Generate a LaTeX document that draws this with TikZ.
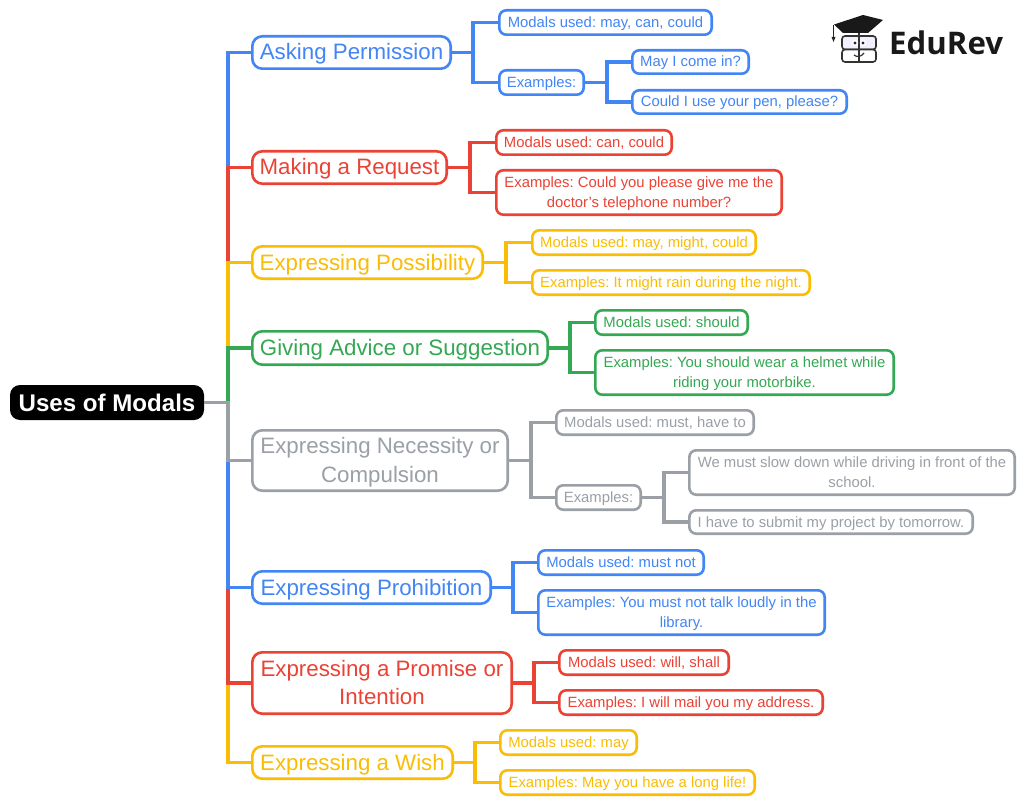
\documentclass[tikz,border=0pt]{standalone}
\usepackage{fontspec}
\setmainfont{Liberation Sans}
\newfontfamily\logofont{Open Sans}
\frenchspacing
\definecolor{cblue}{HTML}{4285F4}
\definecolor{cred}{HTML}{EA4335}
\definecolor{cyel}{HTML}{FBBC04}
\definecolor{cgrn}{HTML}{34A853}
\definecolor{cgry}{HTML}{9AA0A6}
\tikzset{
  mbase/.style={draw,line width=2.6pt,inner sep=0pt,outer sep=0pt,align=center,fill=white,text=#1,draw=#1},
  bigf/.style={font=\fontsize{22.3}{28.5}\selectfont,rounded corners=10pt,
    execute at begin node={\rule{0pt}{20pt}},execute at end node={\rule[-5pt]{0pt}{0pt}}},
  smallf/.style={font=\fontsize{14.85}{20}\selectfont,rounded corners=7pt,
    execute at begin node={\rule{0pt}{14pt}},execute at end node={\rule[-4pt]{0pt}{0pt}}},
  link/.style={line width=3.6pt,#1},
}
\newcommand{\lowr}[1]{\raisebox{-2pt}[\height][\depth]{#1}}
\newcommand{\bx}[8]{\node[mbase=#6,#7,minimum width={(#4-#2-2.6)*1pt},minimum height={(#5-#3-2.6)*1pt}] (#1) at ({(#2+#4)/2},{(#3+#5)/2}) {#8};}
\begin{document}
\begin{tikzpicture}[x=1pt,y=-1pt]
\useasboundingbox (0,0) rectangle (1024,805);
% root
\node[fill=black,rounded corners=10pt,inner sep=0pt,outer sep=0pt,minimum width=194pt,minimum height=35pt,text=white,font=\bfseries\fontsize{24.1}{28}\selectfont] (root) at (107,402.5) {Uses of Modals};
\coordinate (sp) at (228,402.5);
% branches
\bx{A}{251}{35}{452}{70}{cblue}{bigf}{Asking Permission}
\bx{A1}{498}{9}{713}{36}{cblue}{smallf}{Modals used: may, can, could}
\bx{A2}{498}{69}{585}{96}{cblue}{smallf}{Examples:}
\bx{A21}{631}{49}{750}{75}{cblue}{smallf}{May I come in?}
\bx{A22}{631}{89}{848}{115}{cblue}{smallf}{Could I use your pen, please?}
\bx{B}{251}{150}{448}{185}{cred}{bigf}{Making a Request}
\bx{B1}{495}{129}{673}{156}{cred}{smallf}{Modals used: can, could}
\bx{B2}{495}{169}{783}{216}{cred}{smallf}{\lowr{Examples: Could you please give me the}\\\lowr{doctor’s telephone number?}}
\bx{C}{251}{245}{484}{280}{cyel}{bigf}{Expressing Possibility}
\bx{C1}{531}{229}{757}{256}{cyel}{smallf}{Modals used: may, might, could}
\bx{C2}{531}{269}{811}{296}{cyel}{smallf}{Examples: It might rain during the night.}
\bx{D}{251}{330}{549}{366}{cgrn}{bigf}{Giving Advice or Suggestion}
\bx{D1}{594}{309}{749}{336}{cgrn}{smallf}{Modals used: should}
\bx{D2}{594}{349}{895}{396}{cgrn}{smallf}{\lowr{Examples: You should wear a helmet while}\\\lowr{riding your motorbike.}}
\bx{E}{251}{429}{509}{492}{cgry}{bigf}{\lowr{Expressing Necessity or}\\\lowr{Compulsion}}
\bx{E1}{555}{409}{755}{436}{cgry}{smallf}{Modals used: must, have to}
\bx{E2}{555}{484}{642}{511}{cgry}{smallf}{Examples:}
\bx{E21}{688}{449}{1016}{496}{cgry}{smallf}{\lowr{We must slow down while driving in front of the}\\\lowr{school.}}
\bx{E22}{688}{509}{974}{535}{cgry}{smallf}{I have to submit my project by tomorrow.}
\bx{F}{251}{570}{492}{605}{cblue}{bigf}{Expressing Prohibition}
\bx{F1}{537}{549}{705}{576}{cblue}{smallf}{Modals used: must not}
\bx{F2}{537}{589}{826}{636}{cblue}{smallf}{\lowr{Examples: You must not talk loudly in the}\\\lowr{library.}}
\bx{G}{251}{651}{513}{715}{cred}{bigf}{\lowr{Expressing a Promise or}\\\lowr{Intention}}
\bx{G1}{558}{649}{730}{676}{cred}{smallf}{Modals used: will, shall}
\bx{G2}{558}{689}{824}{716}{cred}{smallf}{Examples: I will mail you my address.}
\bx{H}{251}{745}{454}{780}{cyel}{bigf}{Expressing a Wish}
\bx{H1}{499}{729}{638}{756}{cyel}{smallf}{Modals used: may}
\bx{H2}{499}{769}{756}{796}{cyel}{smallf}{Examples: May you have a long life!}
% root connectors, drawn so that nearer branches overlap the trunk
\draw[link=cblue] (root.east) -- (sp) |- (A.west);
\draw[link=cred] (sp) |- (B.west);
\draw[link=cyel] (sp) |- (C.west);
\draw[link=cgrn] (sp) |- (D.west);
\draw[link=cyel] (sp) |- (H.west);
\draw[link=cred] (sp) |- (G.west);
\draw[link=cblue] (sp) |- (F.west);
\draw[link=cgry] (root.east) -- (sp) |- (E.west);
% second level
\draw[link=cblue] (A.east) -- ++(22,0) |- (A1.west);
\draw[link=cblue] (A.east) -- ++(22,0) |- (A2.west);
\draw[link=cblue] (A2.east) -- ++(23,0) |- (A21.west);
\draw[link=cblue] (A2.east) -- ++(23,0) |- (A22.west);
\draw[link=cred] (B.east) -- ++(23,0) |- (B1.west);
\draw[link=cred] (B.east) -- ++(23,0) |- (B2.west);
\draw[link=cyel] (C.east) -- ++(23,0) |- (C1.west);
\draw[link=cyel] (C.east) -- ++(23,0) |- (C2.west);
\draw[link=cgrn] (D.east) -- ++(22,0) |- (D1.west);
\draw[link=cgrn] (D.east) -- ++(22,0) |- (D2.west);
\draw[link=cgry] (E.east) -- ++(23,0) |- (E1.west);
\draw[link=cgry] (E.east) -- ++(23,0) |- (E2.west);
\draw[link=cgry] (E2.east) -- ++(23,0) |- (E21.west);
\draw[link=cgry] (E2.east) -- ++(23,0) |- (E22.west);
\draw[link=cblue] (F.east) -- ++(22,0) |- (F1.west);
\draw[link=cblue] (F.east) -- ++(22,0) |- (F2.west);
\draw[link=cred] (G.east) -- ++(22,0) |- (G1.west);
\draw[link=cred] (G.east) -- ++(22,0) |- (G2.west);
\draw[link=cyel] (H.east) -- ++(22,0) |- (H1.west);
\draw[link=cyel] (H.east) -- ++(22,0) |- (H2.west);
% logo
\node[anchor=base west,inner sep=0pt,font=\logofont\bfseries\fontsize{31.2}{36}\selectfont,text=black!90] (logo) at (889,55) {EduRev};
\fill[black!90] (834,24.5) -- (863,15) -- (883,20) -- (868,33) -- (843,33) -- cycle;
\draw[line width=1pt,black!85] (833.5,25) -- (833.5,38);
\fill[black!85] (831.5,37) -- (835.5,37) -- (833.5,42) -- cycle;
\draw[line width=1.6pt,black!80,fill=blue!6,rounded corners=3pt] (842,36) rectangle (876,49.5);
\draw[line width=1.6pt,black!80,fill=white,rounded corners=3pt] (842,49.5) rectangle (876,62);
\draw[line width=1.3pt,black!80] (859,33) -- (859,62);
\fill[white] (855,43) circle (3.2pt) (863,43) circle (3.2pt);
\fill[black!85] (855,43) circle (1.7pt) (863,43) circle (1.7pt);
\draw[line width=1.2pt,black!80] (854,55) .. controls (857,57.5) and (861,57) .. (864,53);
\end{tikzpicture}
\end{document}
